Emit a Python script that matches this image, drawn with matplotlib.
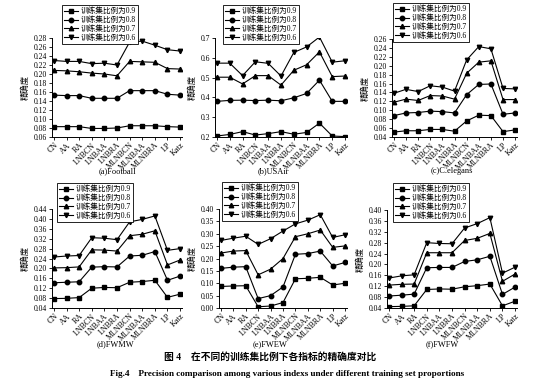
import matplotlib
matplotlib.use('Agg')
import matplotlib.pyplot as plt

plt.rcParams['font.family'] = ['Liberation Serif', 'Noto Sans CJK SC']
plt.rcParams['axes.linewidth'] = 0.7

methods = ['CN', 'AA', 'RA', 'LNBCN', 'LNBAA', 'LNBRA', 'MLNBCN', 'MLNBAA', 'MLNBRA', 'LP', 'Katz']
series_labels = ['训练集比例为0.9', '训练集比例为0.8', '训练集比例为0.7', '训练集比例为0.6']
markers = ['s', 'o', '^', 'v']
titles = ['(a)Football', '(b)USAir', '(c)C.elegans', '(d)FWMW', '(e)FWEW', '(f)FWFW']

football_09 = [0.083, 0.083, 0.083, 0.079, 0.079, 0.080, 0.085, 0.085, 0.085, 0.083, 0.082]
football_08 = [0.153, 0.152, 0.152, 0.146, 0.146, 0.146, 0.163, 0.163, 0.163, 0.155, 0.153]
football_07 = [0.208, 0.207, 0.205, 0.202, 0.200, 0.196, 0.228, 0.227, 0.226, 0.212, 0.211]
football_06 = [0.230, 0.228, 0.228, 0.223, 0.224, 0.220, 0.271, 0.273, 0.264, 0.254, 0.251]

usair_09 = [0.205, 0.213, 0.227, 0.210, 0.217, 0.227, 0.214, 0.223, 0.270, 0.205, 0.202]
usair_08 = [0.380, 0.385, 0.386, 0.384, 0.386, 0.383, 0.398, 0.420, 0.487, 0.380, 0.380]
usair_07 = [0.502, 0.502, 0.468, 0.510, 0.510, 0.462, 0.537, 0.565, 0.630, 0.505, 0.508]
usair_06 = [0.573, 0.573, 0.510, 0.580, 0.572, 0.508, 0.627, 0.655, 0.705, 0.578, 0.585]

celegans_09 = [0.051, 0.054, 0.054, 0.057, 0.057, 0.053, 0.076, 0.089, 0.088, 0.052, 0.056]
celegans_08 = [0.088, 0.094, 0.095, 0.098, 0.097, 0.094, 0.135, 0.158, 0.159, 0.091, 0.094]
celegans_07 = [0.118, 0.125, 0.122, 0.133, 0.132, 0.125, 0.183, 0.208, 0.211, 0.124, 0.124]
celegans_06 = [0.138, 0.147, 0.142, 0.155, 0.152, 0.143, 0.213, 0.243, 0.238, 0.149, 0.148]

fwmw_09 = [0.078, 0.079, 0.082, 0.120, 0.123, 0.122, 0.144, 0.147, 0.152, 0.083, 0.096]
fwmw_08 = [0.142, 0.144, 0.146, 0.205, 0.207, 0.206, 0.250, 0.253, 0.268, 0.152, 0.169]
fwmw_07 = [0.202, 0.203, 0.206, 0.275, 0.274, 0.270, 0.332, 0.338, 0.352, 0.214, 0.234]
fwmw_06 = [0.246, 0.250, 0.252, 0.324, 0.322, 0.316, 0.388, 0.398, 0.412, 0.273, 0.280]

fwew_09 = [0.087, 0.089, 0.090, 0.005, 0.008, 0.022, 0.118, 0.120, 0.124, 0.093, 0.100]
fwew_08 = [0.160, 0.165, 0.167, 0.038, 0.050, 0.085, 0.217, 0.220, 0.230, 0.170, 0.184]
fwew_07 = [0.222, 0.230, 0.232, 0.134, 0.157, 0.200, 0.288, 0.300, 0.315, 0.245, 0.251]
fwew_06 = [0.273, 0.282, 0.290, 0.257, 0.280, 0.311, 0.340, 0.355, 0.377, 0.285, 0.296]

fwfw_09 = [0.045, 0.046, 0.048, 0.108, 0.110, 0.109, 0.118, 0.122, 0.128, 0.048, 0.065]
fwfw_08 = [0.084, 0.087, 0.091, 0.188, 0.189, 0.189, 0.211, 0.217, 0.230, 0.090, 0.117]
fwfw_07 = [0.124, 0.127, 0.128, 0.243, 0.243, 0.243, 0.288, 0.296, 0.314, 0.138, 0.165]
fwfw_06 = [0.150, 0.158, 0.162, 0.280, 0.277, 0.276, 0.334, 0.350, 0.372, 0.168, 0.190]

panels = [
    [football_09, football_08, football_07, football_06],
    [usair_09, usair_08, usair_07, usair_06],
    [celegans_09, celegans_08, celegans_07, celegans_06],
    [fwmw_09, fwmw_08, fwmw_07, fwmw_06],
    [fwew_09, fwew_08, fwew_07, fwew_06],
    [fwfw_09, fwfw_08, fwfw_07, fwfw_06],
]
# (ymin, ymax, step, decimals)
yscales = [(0.06, 0.28, 0.02, 2), (0.2, 0.7, 0.1, 1), (0.04, 0.26, 0.02, 2),
           (0.04, 0.44, 0.04, 2), (0.0, 0.40, 0.05, 2), (0.04, 0.40, 0.04, 2)]

W, H = 549, 385
# axes boxes in pixels: left, top, right, bottom
boxes = [(52, 38, 182, 137), (215, 38, 347, 137), (392, 39, 517, 137),
         (52, 209, 182, 308), (219, 209, 347, 308), (387, 210, 517, 308)]
# legend top-left corner in pixels
legpos = [(62, 5), (223, 5), (393, 3), (57, 183), (222, 182), (393, 183)]
# title center in pixels
titlepos = [(117, 171), (273, 171), (452, 171), (115, 344), (270, 344), (442, 344)]

fig = plt.figure(figsize=(W / 100, H / 100), dpi=100)

for i in range(6):
    l, t, r, b = boxes[i]
    ax = fig.add_axes([l / W, 1 - b / H, (r - l) / W, (b - t) / H])
    for k in range(4):
        ax.plot(range(len(methods)), panels[i][k], color='black', lw=0.8,
                marker=markers[k], markersize=3.2, label=series_labels[k])
    ymin, ymax, step, dec = yscales[i]
    n = int(round((ymax - ymin) / step))
    ticks = [ymin + j * step for j in range(n + 1)]
    ax.set_ylim(ymin, ymax)
    ax.set_yticks(ticks)
    ax.set_yticklabels([('%.' + str(dec) + 'f') % v for v in ticks])
    ax.set_xlim(-0.15, 10.15)
    ax.set_xticks(range(len(methods)))
    ax.set_xticklabels(methods, rotation=45, ha='right', rotation_mode='anchor')
    ax.tick_params(axis='y', labelsize=5.5, direction='out', length=2, width=0.6, pad=1.5)
    ax.tick_params(axis='x', labelsize=5.8, direction='out', length=2, width=0.6, pad=1)
    ax.spines['top'].set_visible(False)
    ax.spines['right'].set_visible(False)
    ax.set_ylabel('精确度', fontsize=6, labelpad=3)
    lx, ly = legpos[i]
    leg = ax.legend(loc='upper left', bbox_to_anchor=(lx / W, 1 - ly / H),
                    bbox_transform=fig.transFigure, fontsize=5.5, frameon=True,
                    fancybox=False, edgecolor='black', framealpha=1,
                    labelspacing=0.12, borderpad=0.3, handlelength=1.8,
                    handletextpad=0.3, borderaxespad=0)
    leg.get_frame().set_linewidth(0.6)
    tx, ty = titlepos[i]
    fig.text(tx / W, 1 - ty / H, titles[i], fontsize=6, ha='center', va='center')

fig.text(270 / W, 1 - 357 / H, '图 4    在不同的训练集比例下各指标的精确度对比',
         fontsize=7, ha='center', va='center', fontweight='bold')
fig.text(287 / W, 1 - 374 / H,
         'Fig.4    Precision comparison among various indexs under different training set proportions',
         fontsize=6.6, ha='center', va='center', fontweight='bold')

fig.savefig('out.png', dpi=100)
